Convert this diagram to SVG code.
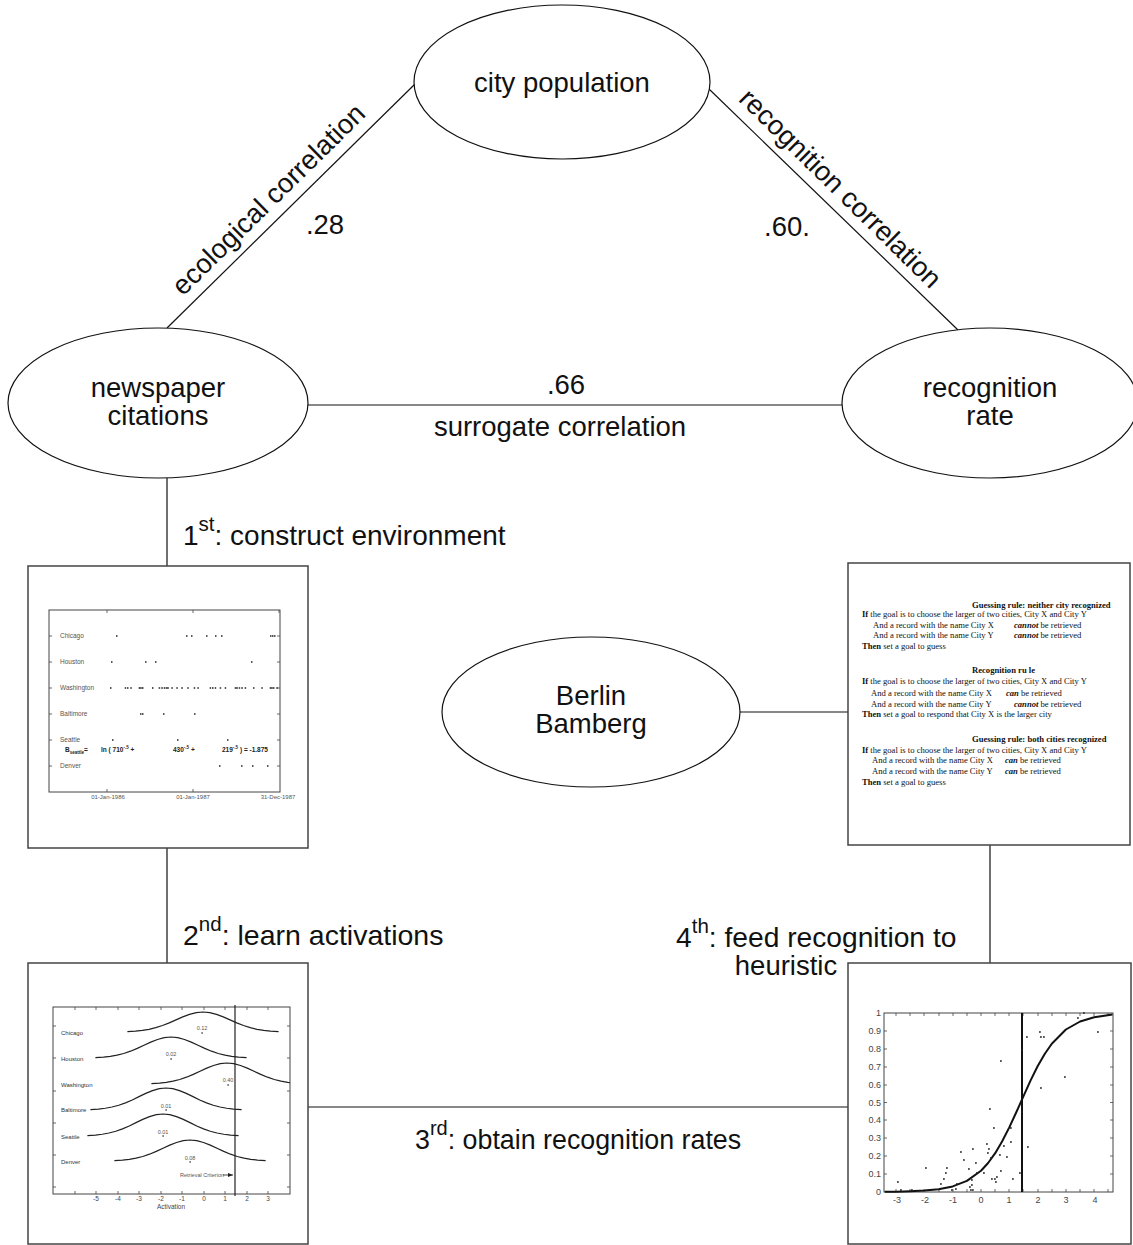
<svg xmlns="http://www.w3.org/2000/svg" xmlns:xlink="http://www.w3.org/1999/xlink" width="1133" height="1245" viewBox="0 0 1133 1245">
<style>
.lbl{font-family:"Liberation Sans",Arial,sans-serif;font-size:27.5px;fill:#111}
.nd{fill:#fff;stroke:#111;stroke-width:1.2}
.cn line{stroke:#111;stroke-width:1.2}
.box{fill:#fff;stroke:#444;stroke-width:1.5}
.frm{fill:none;stroke:#444;stroke-width:1}
.tk{stroke:#444;stroke-width:0.8;fill:none}
.t1{font-family:"Liberation Sans",Arial,sans-serif;font-size:6.5px;fill:#555}
.t3{font-family:"Liberation Sans",Arial,sans-serif;font-size:6px;fill:#333}
.t4{font-family:"Liberation Sans",Arial,sans-serif;font-size:9px;fill:#444}
.rule{font-family:"Liberation Serif","Times New Roman",serif;font-size:8.6px;fill:#111}
.b{font-weight:bold}
.bi{font-weight:bold;font-style:italic}
.dots{stroke:#222;stroke-width:1.5;fill:none}
.gs{fill:none;stroke:#222;stroke-width:1.2;stroke-linejoin:round}
</style>
<defs>
<path id="gauss" vector-effect="non-scaling-stroke" d="M-2.8,0.0198 L-2.5,0.0439 -2.25,0.0796 -2,0.1353 -1.75,0.2163 -1.5,0.3247 -1.25,0.4578 -1,0.6065 -0.75,0.7548 -0.5,0.8825 -0.25,0.9692 0,1 0.25,0.9692 0.5,0.8825 0.75,0.7548 1,0.6065 1.25,0.4578 1.5,0.3247 1.75,0.2163 2,0.1353 2.25,0.0796 2.5,0.0439 2.8,0.0198"/>
<clipPath id="clip3"><rect x="53" y="1000" width="237" height="200"/></clipPath>
<marker id="ah" markerWidth="6" markerHeight="6" refX="5" refY="3" orient="auto" markerUnits="userSpaceOnUse"><path d="M0,1 L5,3 L0,5 Z" fill="#222"/></marker>
</defs>

<g id="connectors" class="cn">
<line x1="167" y1="328" x2="415" y2="84"/>
<line x1="709" y1="89" x2="958" y2="330"/>
<line x1="308" y1="405" x2="842" y2="405"/>
<line x1="167" y1="478" x2="167" y2="566"/>
<line x1="167" y1="848" x2="167" y2="963"/>
<line x1="740" y1="712" x2="848" y2="712"/>
<line x1="990" y1="845" x2="990" y2="963"/>
<line x1="308" y1="1107" x2="848" y2="1107"/>
<text class="lbl" text-anchor="middle" transform="translate(275,206) rotate(-44.6)">ecological correlation</text>
<text class="lbl" text-anchor="middle" x="325" y="234">.28</text>
<text class="lbl" text-anchor="middle" transform="translate(834,195) rotate(44.5)">recognition correlation</text>
<text class="lbl" text-anchor="middle" x="787" y="236">.60.</text>
<text class="lbl" text-anchor="middle" x="566" y="394">.66</text>
<text class="lbl" text-anchor="middle" x="560" y="436">surrogate correlation</text>
<text class="lbl" style="font-size:28px" x="183" y="545">1<tspan font-size="20.5" dy="-14">st</tspan><tspan dy="14">: construct environment</tspan></text>
<text class="lbl" style="font-size:28.5px" x="183" y="945">2<tspan font-size="20.5" dy="-14">nd</tspan><tspan dy="14">: learn activations</tspan></text>
<text class="lbl" style="font-size:28.2px" x="676" y="947">4<tspan font-size="20.5" dy="-14">th</tspan><tspan dy="14">: feed recognition to</tspan></text>
<text class="lbl" text-anchor="middle" x="786" y="975">heuristic</text>
<text class="lbl" style="font-size:26.8px" x="415" y="1149">3<tspan font-size="20" dy="-14">rd</tspan><tspan dy="14">: obtain recognition rates</tspan></text>
</g>

<g id="city-population">
<ellipse class="nd" cx="562" cy="82" rx="148" ry="77"/>
<text class="lbl" text-anchor="middle" x="562" y="92">city population</text>
</g>
<g id="newspaper-citations">
<ellipse class="nd" cx="158" cy="403" rx="150" ry="75"/>
<text class="lbl" text-anchor="middle" x="158" y="397">newspaper</text>
<text class="lbl" text-anchor="middle" x="158" y="425">citations</text>
</g>
<g id="recognition-rate">
<ellipse class="nd" cx="990" cy="403" rx="148" ry="75"/>
<text class="lbl" text-anchor="middle" x="990" y="397">recognition</text>
<text class="lbl" text-anchor="middle" x="990" y="425">rate</text>
</g>
<g id="berlin-bamberg">
<ellipse class="nd" cx="591" cy="712" rx="149" ry="75"/>
<text class="lbl" text-anchor="middle" x="591" y="705">Berlin</text>
<text class="lbl" text-anchor="middle" x="591" y="733">Bamberg</text>
</g>

<g id="newspaper-chart">
<rect class="box" x="28" y="566" width="280" height="282"/>
<rect class="frm" x="49" y="610" width="231" height="182"/>
<path class="tk" d="M107,610v3M193,610v3M279,610v3M107,792v-3M193,792v-3M49,636h3M49,662h3M49,688h3M49,714h3M49,740h3M49,766h3M280,636h-3M280,662h-3M280,688h-3M280,714h-3M280,740h-3M280,766h-3"/>
<text class="t1" x="60" y="638">Chicago</text>
<text class="t1" x="60" y="664">Houston</text>
<text class="t1" x="60" y="690">Washington</text>
<text class="t1" x="60" y="716">Baltimore</text>
<text class="t1" x="60" y="742">Seattle</text>
<text class="t1" x="60" y="768">Denver</text>
<path class="dots" d="M116,636h1.5M186,636h1.5M191,636h1.5M206,636h1.5M215,636h1.5M221,636h1.5M270,636h1.5M272,636h1.5M274,636h1.5
M111,662h1.5M145,662h1.5M155,662h1.5M251,662h1.5
M110,688h1.5M124.7,688h1.5M127,688h1.5M130.3,688h1.5M138.7,688h1.5M140.3,688h1.5M142,688h1.5M152,688h1.5M158.7,688h1.5M161.3,688h1.5M163.7,688h1.5M165.7,688h1.5M167.3,688h1.5M171.3,688h1.5M176.3,688h1.5M181.3,688h1.5M187.3,688h1.5M193.7,688h1.5M197.3,688h1.5M209.7,688h1.5M212,688h1.5M214.7,688h1.5M219.7,688h1.5M224.7,688h1.5M234.7,688h1.5M236.3,688h1.5M238.7,688h1.5M241.3,688h1.5M244.7,688h1.5M253,688h1.5M261.3,688h1.5M269.7,688h1.5M271.3,688h1.5M273,688h1.5M276.3,688h1.5
M140,714h1.5M142,714h1.5M163,714h1.5M194,714h1.5
M112,740h1.5M177,740h1.5M227,740h1.5
M219,766h1.5M241,766h1.5M252,766h1.5M267,766h1.5"/>
<text class="t1 b" style="fill:#222" x="65" y="752">B<tspan font-size="4.5" dy="2">seattle</tspan><tspan dy="-2">=</tspan></text>
<text class="t1 b" style="fill:#222" x="101" y="752">ln ( 710<tspan font-size="4.5" dy="-3">-.5</tspan><tspan dy="3"> +</tspan></text>
<text class="t1 b" style="fill:#222" x="173" y="752">430<tspan font-size="4.5" dy="-3">-.5</tspan><tspan dy="3"> +</tspan></text>
<text class="t1 b" style="fill:#222" x="222" y="752">219<tspan font-size="4.5" dy="-3">-.5</tspan><tspan dy="3"> ) = -1.875</tspan></text>
<text class="t1" style="font-size:6px" text-anchor="middle" x="108" y="799">01-Jan-1986</text>
<text class="t1" style="font-size:6px" text-anchor="middle" x="193" y="799">01-Jan-1987</text>
<text class="t1" style="font-size:6px" text-anchor="middle" x="278" y="799">31-Dec-1987</text>
</g>

<g id="rules-box" class="rule">
<rect class="box" x="848" y="563" width="282" height="282"/>
<text class="b" x="972" y="608">Guessing rule: neither city recognized</text>
<text x="862" y="617"><tspan class="b">If</tspan> the goal is to choose the larger of two cities, City X and City Y</text>
<text x="873" y="628">And a record with the name City X<tspan x="1014" class="bi">cannot</tspan> be retrieved</text>
<text x="873" y="638">And a record with the name City Y<tspan x="1014" class="bi">cannot</tspan> be retrieved</text>
<text x="862" y="649"><tspan class="b">Then</tspan> set a goal to guess</text>
<text class="b" x="972" y="673">Recognition ru le</text>
<text x="862" y="684"><tspan class="b">If</tspan> the goal is to choose the larger of two cities, City X and City Y</text>
<text x="871" y="696">And a record with the name City X<tspan x="1006" class="bi">can</tspan> be retrieved</text>
<text x="871" y="707">And a record with the name City Y<tspan x="1014" class="bi">cannot</tspan> be retrieved</text>
<text x="862" y="717"><tspan class="b">Then</tspan> set a goal to respond that City X is the larger city</text>
<text class="b" x="972" y="742">Guessing rule: both  cities recognized</text>
<text x="862" y="753"><tspan class="b">If</tspan> the goal is to choose the larger of two cities, City X and City Y</text>
<text x="872" y="763">And a record with the name City X<tspan x="1005" class="bi">can</tspan> be retrieved</text>
<text x="872" y="774">And a record with the name City Y<tspan x="1005" class="bi">can</tspan> be retrieved</text>
<text x="862" y="785"><tspan class="b">Then</tspan> set a goal to guess</text>
</g>

<g id="activation-chart">
<rect class="box" x="28" y="963" width="280" height="281"/>
<rect class="frm" x="53" y="1007" width="237" height="187"/>
<path class="tk" d="M75,1007v3M96,1007v3M118,1007v3M139,1007v3M161,1007v3M182,1007v3M204,1007v3M225,1007v3M247,1007v3M268,1007v3M75,1194v-3M96,1194v-3M118,1194v-3M139,1194v-3M161,1194v-3M182,1194v-3M204,1194v-3M225,1194v-3M247,1194v-3M268,1194v-3M53,1026h3M53,1058h3M53,1091h3M53,1123h3M53,1155h3M53,1187h3M290,1026h-3M290,1058h-3M290,1091h-3M290,1123h-3M290,1155h-3M290,1187h-3"/>
<line x1="235" y1="1005" x2="235" y2="1196" stroke="#222" stroke-width="1.2"/>
<g clip-path="url(#clip3)">
<use xlink:href="#gauss" class="gs" transform="translate(203,1032) scale(27,-20)"/>
<use xlink:href="#gauss" class="gs" transform="translate(171,1058) scale(27,-21)"/>
<use xlink:href="#gauss" class="gs" transform="translate(227,1084) scale(27,-21)"/>
<use xlink:href="#gauss" class="gs" transform="translate(166,1110) scale(27,-22)"/>
<use xlink:href="#gauss" class="gs" transform="translate(163,1136) scale(27,-22)"/>
<use xlink:href="#gauss" class="gs" transform="translate(190,1161) scale(27,-21)"/>
</g>
<text class="t3" x="61" y="1035">Chicago</text>
<text class="t3" x="61" y="1061">Houston</text>
<text class="t3" x="61" y="1087">Washington</text>
<text class="t3" x="61" y="1112">Baltimore</text>
<text class="t3" x="61" y="1139">Seattle</text>
<text class="t3" x="61" y="1164">Denver</text>
<g class="t3" style="font-size:5.5px;fill:#555" text-anchor="middle">
<text x="202" y="1030">0.12</text>
<text x="171" y="1056">0.02</text>
<text x="228" y="1082">0.40</text>
<text x="166" y="1108">0.01</text>
<text x="163" y="1134">0.01</text>
<text x="190" y="1160">0.08</text>
</g>
<path class="dots" stroke-width="1.2" d="M201.5,1033h1.2M170.5,1059h1.2M227.5,1085h1.2M165.5,1110h1.2M162.5,1136h1.2M189.5,1162h1.2"/>
<text class="t3" style="font-size:5.5px;fill:#555" x="180" y="1177">Retrieval Criterion</text>
<line x1="223" y1="1175" x2="233" y2="1175" stroke="#222" stroke-width="0.8" marker-end="url(#ah)"/>
<g class="t3" style="font-size:6.5px;fill:#444" text-anchor="middle">
<text x="96" y="1201">-5</text><text x="118" y="1201">-4</text><text x="139" y="1201">-3</text><text x="161" y="1201">-2</text><text x="182" y="1201">-1</text><text x="204" y="1201">0</text><text x="225" y="1201">1</text><text x="247" y="1201">2</text><text x="268" y="1201">3</text>
<text x="171" y="1209">Activation</text>
</g>
</g>

<g id="recognition-chart">
<rect class="box" x="848" y="963" width="283" height="281"/>
<rect class="frm" x="884" y="1013" width="229" height="179"/>
<path class="tk" d="M896,1013v3M910,1013v3M924,1013v3M939,1013v3M953,1013v3M967,1013v3M981,1013v3M995,1013v3M1009,1013v3M1023,1013v3M1038,1013v3M1052,1013v3M1066,1013v3M1080,1013v3M1094,1013v3M1108,1013v3M896,1192v-3M910,1192v-3M924,1192v-3M939,1192v-3M953,1192v-3M967,1192v-3M981,1192v-3M995,1192v-3M1009,1192v-3M1023,1192v-3M1038,1192v-3M1052,1192v-3M1066,1192v-3M1080,1192v-3M1094,1192v-3M1108,1192v-3M884,1031h3M884,1049h3M884,1067h3M884,1085h3M884,1102.5h3M884,1120h3M884,1138h3M884,1156h3M884,1174h3M1113,1031h-3M1113,1049h-3M1113,1067h-3M1113,1085h-3M1113,1102.5h-3M1113,1120h-3M1113,1138h-3M1113,1156h-3M1113,1174h-3"/>
<g class="t4" text-anchor="end">
<text x="881" y="1016">1</text><text x="881" y="1034">0.9</text><text x="881" y="1052">0.8</text><text x="881" y="1070">0.7</text><text x="881" y="1088">0.6</text><text x="881" y="1105.5">0.5</text><text x="881" y="1123">0.4</text><text x="881" y="1141">0.3</text><text x="881" y="1159">0.2</text><text x="881" y="1177">0.1</text><text x="881" y="1195">0</text>
</g>
<g class="t4" text-anchor="middle">
<text x="897" y="1203">-3</text><text x="925" y="1203">-2</text><text x="953" y="1203">-1</text><text x="981" y="1203">0</text><text x="1009" y="1203">1</text><text x="1038" y="1203">2</text><text x="1066" y="1203">3</text><text x="1095" y="1203">4</text>
</g>
<line x1="1022" y1="1013" x2="1022" y2="1192" stroke="#111" stroke-width="2"/>
<path fill="none" stroke="#111" stroke-width="2" stroke-linejoin="round" d="M884.8,1191.8 L896.1,1191.7 910.3,1191.3 924.4,1190.6 938.6,1189.2 952.7,1186.4 966.9,1180.9 981,1170.7 988.1,1163 995.2,1153.2 1002.2,1141.3 1009.3,1127.4 1016.4,1112 1023.5,1096.1 1030.5,1080.6 1037.6,1066.3 1044.7,1054 1051.8,1043.8 1065.9,1029.5 1080.1,1021.5 1094.2,1017.3 1112.5,1014.6"/>
<path class="dots" stroke-width="1.8" d="M1000,1061h1.8M989,1109h1.8M1021,1050h1.8M1026,1037h1.8M1039,1032h1.8M1040,1037h1.8M1043,1037h1.8M1050,1045h1.8M1040,1088h1.8M1064,1077h1.8M1077,1018h1.8M1083,1013h1.8M1097,1032h1.8M1021,1112h1.8M897,1182h1.8M900,1190h1.8M911,1190h1.8M925,1168h1.8M940,1184h1.8M943,1179h1.8M945,1173h1.8M946,1168h1.8M951,1190h1.8M955,1189h1.8M956,1184h1.8M963,1160h1.8M960,1152h1.8M968,1169h1.8M969,1187h1.8M970,1190h1.8M971,1185h1.8M971,1180h1.8M972,1190h1.8M972,1149h1.8M975,1163h1.8M976,1173h1.8M983,1173h1.8M986,1144h1.8M987,1153h1.8M988,1149h1.8M990,1158h1.8M991,1179h1.8M993,1128h1.8M994,1179h1.8M995,1182h1.8M996,1177h1.8M999,1155h1.8M1000,1171h1.8M1003,1146h1.8M1006,1157h1.8M1010,1142h1.8M1010,1128h1.8M1012,1179h1.8M1019,1173h1.8M1027,1147h1.8"/>
</g>
</svg>
